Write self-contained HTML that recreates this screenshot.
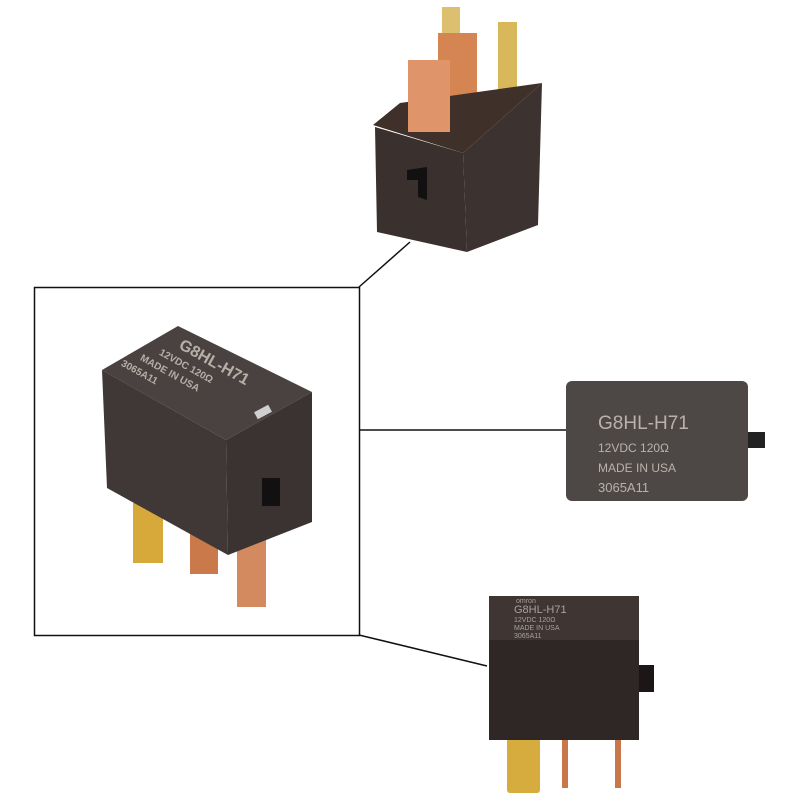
<!DOCTYPE html>
<html><head><meta charset="utf-8"><style>
html,body{margin:0;padding:0;background:#fff;width:800px;height:800px;overflow:hidden}
svg{display:block}
text{font-family:"Liberation Sans",sans-serif}
</style></head><body>
<svg width="800" height="800" viewBox="0 0 800 800" xmlns="http://www.w3.org/2000/svg">
<rect width="800" height="800" fill="#fff"/>
<rect x="34.5" y="287.5" width="325" height="348" fill="none" stroke="#111" stroke-width="1.5"/>
<line x1="359" y1="287" x2="410" y2="242" stroke="#111" stroke-width="1.5"/>
<line x1="359" y1="430" x2="566" y2="430" stroke="#111" stroke-width="1.5"/>
<line x1="359" y1="635" x2="487" y2="666" stroke="#111" stroke-width="1.5"/>

<!-- TOP relay -->
<rect x="442" y="7" width="18" height="40" fill="#dcc070"/>
<rect x="498" y="22" width="19" height="80" fill="#d8b85a"/>
<rect x="438" y="33" width="39" height="80" fill="#d58552"/>
<polygon points="373,125 400,103 542,83 463,153" fill="#3f302a"/>
<rect x="408" y="60" width="42" height="72" fill="#e0946a"/>
<polygon points="375,127 463,153 467,252 377,232" fill="#3a302e"/>
<polygon points="463,153 542,83 538,225 467,252" fill="#3c3230"/>
<polygon points="407,170 427,167 427,200 418,197 418,180 407,180" fill="#121010"/>

<!-- MAIN relay -->
<rect x="133" y="503" width="30" height="60" fill="#d6a93a"/>
<rect x="190" y="530" width="28" height="44" fill="#c9794a"/>
<rect x="237" y="530" width="29" height="77" fill="#d38a5e"/>
<polygon points="102,370 178,326 312,392 226,440" fill="#4a4240"/>
<polygon points="102,370 226,440 228,555 107,488" fill="#3f3836"/>
<polygon points="226,440 312,392 312,522 228,555" fill="#3a3331"/>
<rect x="262" y="478" width="18" height="28" fill="#121010"/>
<rect x="255" y="408" width="16" height="8" fill="#cfcfcf" transform="rotate(-28 263 412)"/>
<g transform="translate(178,348) rotate(29)" fill="#b7aea8" font-weight="bold">
<text x="0" y="0" font-size="16">G8HL-H71</text>
<text x="-14" y="15" font-size="10">12VDC 120Ω</text>
<text x="-28" y="29" font-size="10">MADE IN USA</text>
<text x="-42" y="43" font-size="10">3065A11</text>
</g>

<!-- RIGHT face -->
<rect x="566" y="381" width="182" height="120" rx="6" fill="#4d4846"/>
<rect x="748" y="432" width="17" height="16" fill="#222"/>
<g fill="#b9b2ab">
<text x="598" y="429" font-size="19">G8HL-H71</text>
<text x="598" y="452" font-size="12">12VDC 120Ω</text>
<text x="598" y="472" font-size="12">MADE IN USA</text>
<text x="598" y="492" font-size="13">3065A11</text>
</g>

<!-- BOTTOM relay -->
<rect x="507" y="738" width="33" height="55" rx="3" fill="#d6ac3e"/>
<rect x="562" y="738" width="6" height="50" fill="#c8764a"/>
<rect x="615" y="738" width="6" height="50" fill="#c8764a"/>
<rect x="489" y="596" width="150" height="46" fill="#3f3634"/>
<rect x="489" y="640" width="150" height="100" fill="#2f2725"/>
<rect x="639" y="665" width="15" height="27" fill="#1c1616"/>
<g fill="#a8a09a">
<text x="516" y="603" font-size="7">omron</text>
<text x="514" y="613" font-size="11">G8HL-H71</text>
<text x="514" y="622" font-size="7">12VDC 120Ω</text>
<text x="514" y="630" font-size="7">MADE IN USA</text>
<text x="514" y="638" font-size="7">3065A11</text>
</g>
</svg>
</body></html>
